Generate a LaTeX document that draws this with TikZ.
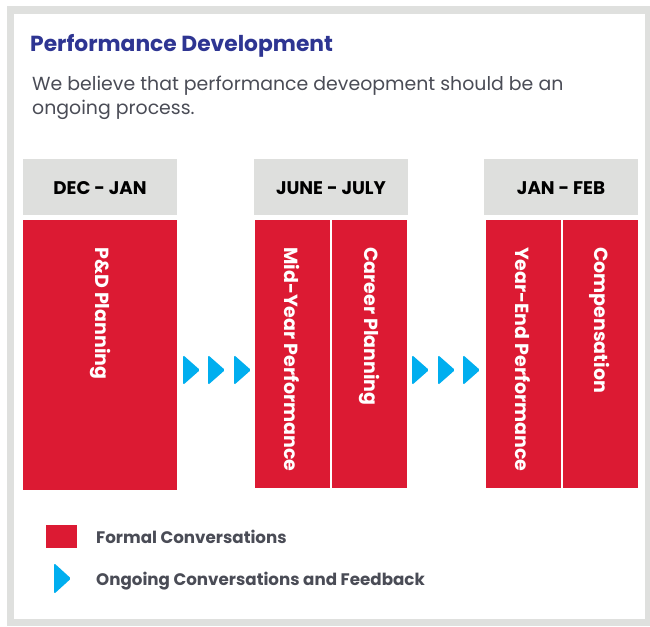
\documentclass[tikz,border=0pt]{standalone}
\usepackage{fontspec}
\setmainfont{Poppins}
\definecolor{framegrey}{HTML}{DFE0DE}
\definecolor{headgrey}{HTML}{DEDFDD}
\definecolor{formalred}{HTML}{DC1A33}
\definecolor{ongoingblue}{HTML}{00AEEF}
\definecolor{titleblue}{HTML}{2E3592}
\definecolor{bodygrey}{HTML}{4A4C56}
\tikzset{
  headbox/.style={fill=headgrey, draw=none},
  redbox/.style={fill=formalred, draw=none},
  headtext/.style={font=\bfseries\fontsize{18.3}{20}\selectfont, text=black, inner sep=0pt},
  vlabel/.style={rotate=-90, anchor=west, inner sep=0pt, text=white, font=\bfseries\fontsize{19}{21}\selectfont},
  chev/.style={fill=ongoingblue, draw=none, rounded corners=1.5pt},
  legtext/.style={anchor=base west, inner sep=0pt, text=bodygrey, font=\bfseries\fontsize{16.7}{18}\selectfont}
}
\begin{document}
\begin{tikzpicture}[x=1pt,y=-1pt]
\useasboundingbox (0,0) rectangle (650,626);
\fill[white] (0,0) rectangle (650,626);
% frame
\fill[framegrey] (7,6) rectangle (650,626);
\fill[white] (14,14) rectangle (645,619);
% title and intro
\node[anchor=base west, inner sep=0pt, text=titleblue, font=\bfseries\fontsize{21.8}{24}\selectfont] (title) at (30,52) {Performance Development};
\node[anchor=north west, inner sep=0pt, text=bodygrey, align=left, font=\fontsize{18.9}{24}\selectfont] (intro) at (32,76) {We believe that performance deveopment should be an\\ongoing process.};
% header boxes
\path[headbox] (23,159) rectangle (177,215);
\path[headbox] (254,159) rectangle (408,215);
\path[headbox] (484,159) rectangle (638,215);
\node[headtext] (h1) at (100,188) {DEC - JAN};
\node[headtext] (h2) at (331,188) {JUNE - JULY};
\node[headtext] (h3) at (561,188) {JAN - FEB};
% red boxes
\path[redbox] (23,220) rectangle (177,490);
\path[redbox] (255,220) rectangle (330,488);
\path[redbox] (332,220) rectangle (407,488);
\path[redbox] (486,220) rectangle (561,488);
\path[redbox] (563,220) rectangle (638,488);
\node[vlabel] (b1) at (100,247) {P\&D Planning};
\node[vlabel] (b2) at (292,247) {Mid-Year Performance};
\node[vlabel] (b3) at (369,247) {Career Planning};
\node[vlabel] (b4) at (523,247) {Year-End Performance};
\node[vlabel] (b5) at (600,247) {Compensation};
% chevrons
\foreach \x in {183,208,234,412,438,463}{
  \path[chev] (\x,355) -- (\x+17,370) -- (\x,385) -- cycle;
}
% legend
\path[redbox] (46,525) rectangle (77,548);
\path[chev] (54,563) -- (71,578.5) -- (54,594) -- cycle;
\node[legtext] (l1) at (96,543) {Formal Conversations};
\node[legtext] (l2) at (96,585) {Ongoing Conversations and Feedback};
\end{tikzpicture}
\end{document}
